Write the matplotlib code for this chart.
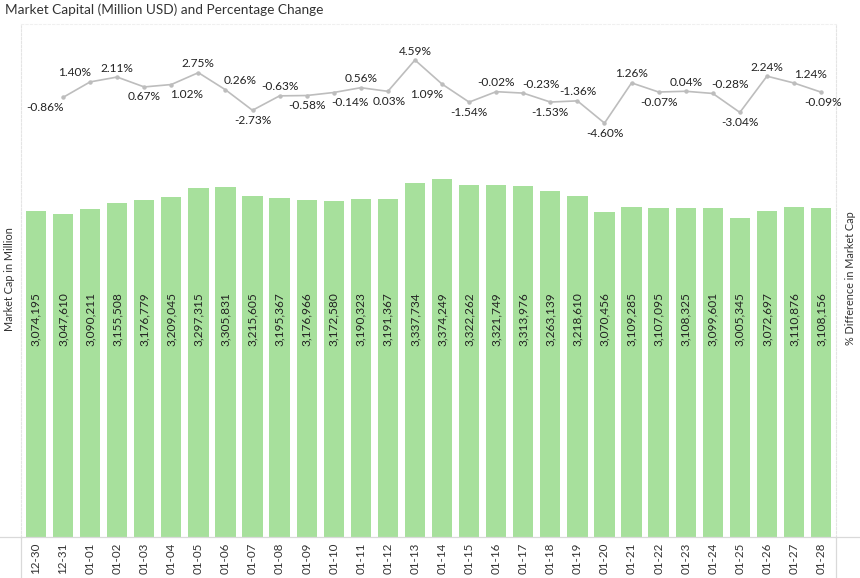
import matplotlib.pyplot as plt
import numpy as np

plt.rcParams['font.family'] = ['Lato', 'DejaVu Sans']

dates = ["12-30", "12-31", "01-01", "01-02", "01-03", "01-04", "01-05", "01-06",
         "01-07", "01-08", "01-09", "01-10", "01-11", "01-12", "01-13", "01-14",
         "01-15", "01-16", "01-17", "01-18", "01-19", "01-20", "01-21", "01-22",
         "01-23", "01-24", "01-25", "01-26", "01-27", "01-28"]

market_cap = [3074195, 3047610, 3090211, 3155508, 3176779, 3209045, 3297315, 3305831,
              3215605, 3195367, 3176966, 3172580, 3190323, 3191367, 3337734, 3374249,
              3322262, 3321749, 3313976, 3263139, 3218610, 3070456, 3109285, 3107095,
              3108325, 3099601, 3005345, 3072697, 3110876, 3108156]

pct_change = [-0.86, 1.40, 2.11, 0.67, 1.02, 2.75, 0.26, -2.73, -0.63, -0.58,
              -0.14, 0.56, 0.03, 4.59, 1.09, -1.54, -0.02, -0.23, -1.53, -1.36,
              -4.60, 1.26, -0.07, 0.04, -0.28, -3.04, 2.24, 1.24, -0.09]

# where the % labels sit: 1 = above the point, -1 = below
label_side = [-1, 1, 1, -1, -1, 1, 1, -1, 1, -1,
              -1, 1, -1, 1, -1, -1, 1, 1, -1, 1,
              -1, 1, -1, 1, 1, -1, 1, 1, -1]
# sideways nudge (pixels) that keeps neighbouring labels apart
label_dx = [-18, -15, 0, 0, 15, 0, 15, 0, 0, 0,
            16, 0, 1, 0, -15, 0, 0, 18, 0, 0,
            0, 0, 0, 0, 17, 0, 0, 16, 2]

bar_color = "#a7e09c"
line_color = "#bdbdbd"
axis_color = "#d9d9d9"

fig = plt.figure(figsize=(8.6, 5.78), dpi=100)
ax = fig.add_axes([21 / 860, 41 / 578, 815 / 860, 513 / 578])

x = np.arange(len(dates))
ax.bar(x, market_cap, width=0.75, color=bar_color, zorder=2)
for xi, v in zip(x, market_cap):
    ax.text(xi, 1.80e6, f"{v:,}", rotation=90, ha="center", va="bottom",
            fontsize=8.6, color="#222222", zorder=3)

ax.set_xlim(-0.55, len(dates) - 0.45)
ax.set_ylim(0, 4.84e6)
ax.set_xticks(x)
ax.set_xticklabels(dates, rotation=90, fontsize=8.4, color="#333333")
ax.tick_params(axis="x", length=0, pad=4)
ax.set_yticks([])
for side in ["left", "right"]:
    ax.spines[side].set_color("#e4e4e4")
    ax.spines[side].set_linestyle((0, (2, 1.5)))
    ax.spines[side].set_linewidth(0.8)
ax.spines["bottom"].set_visible(False)
ax.spines["top"].set_color("#f0f0f0")
ax.spines["top"].set_linestyle((0, (2, 2)))

# axis rules that run out to the figure edges
fig.add_artist(plt.Line2D([0, 1], [41 / 578, 41 / 578], color=axis_color, lw=0.9))
for xp in [21 / 860, 836 / 860]:
    fig.add_artist(plt.Line2D([xp, xp], [0, 41 / 578], color=axis_color, lw=0.9))

ax2 = ax.twinx()
xl = x[1:]
ax2.plot(xl, pct_change, color=line_color, lw=1.2, marker="o", ms=2.2, zorder=4)
ax2.set_ylim(-64.9, 9.84)
ax2.set_yticks([])
for s in ax2.spines.values():
    s.set_visible(False)
for xi, v, side, dx in zip(xl, pct_change, label_side, label_dx):
    dy = 9 if side > 0 else -10
    ax2.annotate(f"{v:.2f}%", (xi, v), xytext=(dx, dy), textcoords="offset pixels",
                 ha="center", va="center", fontsize=8.6, color="#222222")

fig.text(0.006, 0.983, "Market Capital (Million USD) and Percentage Change",
         fontsize=9.8, color="#333333", va="center", ha="left")
fig.text(10 / 860, 1 - 279 / 578, "Market Cap in Million", rotation=90,
         fontsize=7.8, color="#333333", ha="center", va="center")
fig.text(850 / 860, 1 - 278 / 578, "% Difference in Market Cap", rotation=90,
         fontsize=7.8, color="#333333", ha="center", va="center")

fig.savefig("out.png", dpi=100)
